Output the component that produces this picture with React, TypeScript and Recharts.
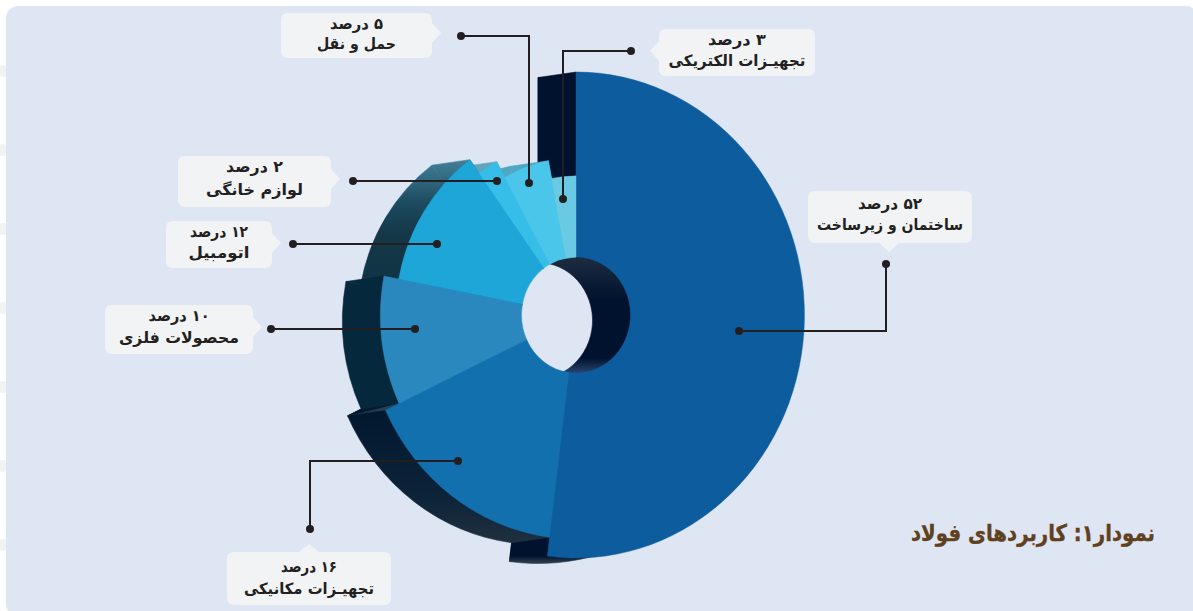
import React from "react";
import { PieChart, Pie, Sector } from "recharts";

// Steel end-use shares, in clockwise order from twelve o'clock.
const sectors = [
  "ساختمان و زیرساخت",
  "تجهیـزات مکانیکی",
  "محصولات فلزی",
  "اتومبیل",
  "لوازم خانگی",
  "حمل و نقل",
  "تجهیـزات الکتریکی",
];
const shares = [52, 16, 10, 12, 2, 5, 3];
const shareLabels = ["۵۲", "۱۶", "۱۰", "۱۲", "۲", "۵", "۳"];
const chartTitle = "نمودار۱: کاربردهای فولاد";

const rows = sectors.map((name, i) => ({ name, value: shares[i], slot: i }));
const reversedRows = [...rows].reverse();

// Look of each slice, indexed by slot.
const faceColors = ["#0C5C9E", "#1270AE", "#2A88BF", "#1EA6D9", "#36BEE9", "#4AC6EA", "#6ACAE3"];
const sliceRadii = [243, 224, 208, 192, 175, 157, 139];
const wallFills = ["url(#wall0)", "url(#wall1)", "#06283C", "url(#wall3)", "#5FA6BC", "#4FA6C0", "#4FA6C0"];

const CX = 576;
const CY = 315;
const HOLE = 58;
const SQUASH = 0.94;
const SHIFT_X = -38 / SQUASH;
const SHIFT_Y = 5.5;
const RAD = Math.PI / 180;
const squash = `translate(${CX} ${CY}) scale(${SQUASH} 1) translate(${-CX} ${-CY})`;

type Callout = {
  box: [number, number, number, number];
  tip: [number, number];
  side: "left" | "right" | "up" | "down";
  lines: [number, number];
  widths: [number, number];
  leader: [number, number][];
};

// Annotation layout per slot: box x0,y0,x1,y1, pointer tip, centre y and width of the two
// text lines, and the leader polyline running from the slice to the box.
const callouts: Callout[] = [
  { box: [808, 191, 972, 243], tip: [889, 252], side: "down", lines: [204, 225], widths: [64, 146], leader: [[739, 331], [886, 331], [886, 264]] },
  { box: [227, 552, 391, 605], tip: [309, 544], side: "up", lines: [567, 589], widths: [56, 130], leader: [[458, 461], [310, 461], [310, 529]] },
  { box: [105, 305, 253, 354], tip: [262, 327], side: "right", lines: [316, 338], widths: [61, 120], leader: [[415, 329], [271, 329]] },
  { box: [166, 221, 272, 268], tip: [281, 243], side: "right", lines: [232, 253], widths: [58, 61], leader: [[437, 244], [293, 244]] },
  { box: [178, 156, 331, 207], tip: [340, 179], side: "right", lines: [167, 190], widths: [57, 97], leader: [[497, 181], [353, 181]] },
  { box: [281, 13, 432, 58], tip: [441, 33], side: "right", lines: [24, 44], widths: [53, 79], leader: [[529, 183], [529, 36], [461, 36]] },
  { box: [659, 29, 815, 76], tip: [650, 51], side: "left", lines: [40, 61], widths: [58, 137], leader: [[563, 199], [563, 51], [631, 51]] },
];

// Faint dots peeking out from behind the panel's left edge.
const edgeDots = [71, 150, 229, 308, 387, 466, 545];

const FONT = "'DejaVu Sans', sans-serif";

function polar(cx: number, cy: number, r: number, deg: number): [number, number] {
  return [cx + r * Math.cos(deg * RAD), cy - r * Math.sin(deg * RAD)];
}

// Extruded side of a slice: the slice slid back along the extrusion vector,
// plus the two parallelograms that join its straight edges to the face.
function Wall(props: any) {
  const { cx, cy, startAngle, endAngle, innerRadius, payload } = props;
  const slot = payload.slot;
  const r = sliceRadii[slot];
  const quad = (a: number) => {
    const o = polar(cx, cy, r, a);
    const i = polar(cx, cy, innerRadius, a);
    return `${o[0]},${o[1]} ${o[0] + SHIFT_X},${o[1] + SHIFT_Y} ${i[0] + SHIFT_X},${i[1] + SHIFT_Y} ${i[0]},${i[1]}`;
  };
  const fill = wallFills[slot];
  // The step between this slice and the larger one below it catches some light.
  let cap = null;
  if (slot === 2) {
    const a = Math.max(startAngle, endAngle);
    const big = polar(cx, cy, sliceRadii[1], a);
    const own = polar(cx, cy, r, a);
    cap = <polygon points={`${big[0]},${big[1]} ${big[0] + SHIFT_X},${big[1] + SHIFT_Y} ${own[0]},${own[1]}`} fill="url(#step)" />;
  }
  return (
    <g transform={squash}>
      <Sector
        cx={cx + SHIFT_X}
        cy={cy + SHIFT_Y}
        innerRadius={innerRadius}
        outerRadius={r}
        startAngle={startAngle}
        endAngle={endAngle}
        fill={fill}
        stroke={fill}
        strokeWidth={0.6}
      />
      <polygon points={quad(startAngle)} fill={fill} stroke={fill} strokeWidth={0.6} />
      <polygon points={quad(endAngle)} fill={fill} stroke={fill} strokeWidth={0.6} />
      {cap}
    </g>
  );
}

const backWall = (props: any) => (props.payload.slot <= 1 ? <Wall {...props} /> : <g />);
const frontWall = (props: any) => (props.payload.slot > 1 ? <Wall {...props} /> : <g />);

function Face(props: any) {
  const { cx, cy, startAngle, endAngle, innerRadius, payload } = props;
  const slot = payload.slot;
  return (
    <g transform={squash}>
      <Sector
        cx={cx}
        cy={cy}
        innerRadius={innerRadius}
        outerRadius={sliceRadii[slot]}
        startAngle={startAngle}
        endAngle={endAngle}
        fill={faceColors[slot]}
        stroke={faceColors[slot]}
        strokeWidth={0.5}
      />
    </g>
  );
}

function boxPath(c: Callout) {
  const [x0, y0, x1, y1] = c.box;
  const [tx, ty] = c.tip;
  const r = 7;
  const w = 10;
  const top = c.side === "up" ? `L${tx - w} ${y0} L${tx} ${ty} L${tx + w} ${y0} ` : "";
  const right = c.side === "right" ? `L${x1} ${ty - w} L${tx} ${ty} L${x1} ${ty + w} ` : "";
  const bottom = c.side === "down" ? `L${tx + w} ${y1} L${tx} ${ty} L${tx - w} ${y1} ` : "";
  const left = c.side === "left" ? `L${x0} ${ty + w} L${tx} ${ty} L${x0} ${ty - w} ` : "";
  return (
    `M${x0 + r} ${y0} ${top}L${x1 - r} ${y0} Q${x1} ${y0} ${x1} ${y0 + r} ${right}` +
    `L${x1} ${y1 - r} Q${x1} ${y1} ${x1 - r} ${y1} ${bottom}` +
    `L${x0 + r} ${y1} Q${x0} ${y1} ${x0} ${y1 - r} ${left}L${x0} ${y0 + r} Q${x0} ${y0} ${x0 + r} ${y0}Z`
  );
}

function Line({ x, y, width, children }: { x: number; y: number; width: number; children: React.ReactNode }) {
  return (
    <text
      x={x}
      y={y}
      textAnchor="middle"
      dominantBaseline="central"
      direction="rtl"
      textLength={width}
      lengthAdjust="spacingAndGlyphs"
      fontFamily={FONT}
      fontWeight={700}
      fontSize={15.5}
      fill="#231F20"
    >
      {children}
    </text>
  );
}

function CalloutLabel(props: any) {
  const slot = props.payload?.slot ?? props.index;
  const c = callouts[slot];
  const mid = (c.box[0] + c.box[2]) / 2;
  const pts = c.leader.map((p) => p.join(",")).join(" ");
  const first = c.leader[0];
  const last = c.leader[c.leader.length - 1];
  return (
    <g>
      <path d={boxPath(c)} fill="#F1F3F4" />
      <Line x={mid} y={c.lines[0]} width={c.widths[0]}>{`${shareLabels[slot]} درصد`}</Line>
      <Line x={mid} y={c.lines[1]} width={c.widths[1]}>{props.name}</Line>
      <polyline points={pts} fill="none" stroke="#231F20" strokeWidth={2} />
      <circle cx={first[0]} cy={first[1]} r={4} fill="#231F20" />
      <circle cx={last[0]} cy={last[1]} r={4} fill="#231F20" />
    </g>
  );
}

const pieBase = {
  dataKey: "value",
  nameKey: "name",
  cx: CX,
  cy: CY,
  innerRadius: HOLE,
  outerRadius: 243,
  paddingAngle: 0,
  stroke: "none",
  isAnimationActive: false,
  rootTabIndex: -1,
};

export default function App() {
  return (
    <div style={{ position: "absolute", left: 0, top: 0, width: 1193, height: 611, background: "#fff", overflow: "hidden" }}>
      {edgeDots.map((y) => (
        <div
          key={y}
          style={{
            position: "absolute",
            left: -3,
            top: y - 6,
            width: 12,
            height: 12,
            borderRadius: 6,
            background: "#EFF3F4",
          }}
        />
      ))}
      <div
        style={{
          position: "absolute",
          left: 6,
          top: 6,
          width: 1192,
          height: 610,
          background: "#DFE6F3",
          borderRadius: 12,
        }}
      />
      <PieChart
        width={1193}
        height={611}
        margin={{ top: 0, right: 0, bottom: 0, left: 0 }}
        style={{ position: "absolute", left: 0, top: 0 }}
      >
        <defs>
          <linearGradient id="wall0" gradientUnits="userSpaceOnUse" x1="0" y1="0" x2="0" y2="611">
            <stop offset={250 / 611} stopColor="#00122E" />
            <stop offset={258 / 611} stopColor="#1C2B3F" />
            <stop offset={300 / 611} stopColor="#00122E" />
            <stop offset={358 / 611} stopColor="#00122E" />
            <stop offset={373 / 611} stopColor="#2A4470" />
            <stop offset={380 / 611} stopColor="#00122E" />
            <stop offset={556 / 611} stopColor="#00122E" />
            <stop offset={562 / 611} stopColor="#2A3A4C" />
          </linearGradient>
          <linearGradient id="wall1" gradientUnits="userSpaceOnUse" x1="0" y1="410" x2="0" y2="545">
            <stop offset="0" stopColor="#02182E" />
            <stop offset="0.6" stopColor="#0B2238" />
            <stop offset="1" stopColor="#20303F" />
          </linearGradient>
          <linearGradient id="wall3" gradientUnits="userSpaceOnUse" x1="0" y1="158" x2="0" y2="285">
            <stop offset="0" stopColor="#42839C" />
            <stop offset="0.35" stopColor="#1D4B5F" />
            <stop offset="0.6" stopColor="#143848" />
            <stop offset="1" stopColor="#103444" />
          </linearGradient>
          <linearGradient id="step" gradientUnits="userSpaceOnUse" x1="347" y1="0" x2="398" y2="0">
            <stop offset="0" stopColor="#1A3040" />
            <stop offset="1" stopColor="#3A4F5E" />
          </linearGradient>
        </defs>
        <Pie {...pieBase} data={rows} startAngle={90} endAngle={-270} shape={backWall} />
        <Pie {...pieBase} data={reversedRows} startAngle={-270} endAngle={90} shape={frontWall} />
        <Pie
          {...pieBase}
          data={rows}
          startAngle={90}
          endAngle={-270}
          shape={Face}
          label={CalloutLabel}
          labelLine={false}
        />
        <text
          x={1033}
          y={533}
          textAnchor="middle"
          dominantBaseline="central"
          direction="rtl"
          textLength={244}
          lengthAdjust="spacingAndGlyphs"
          fontFamily={FONT}
          fontWeight={700}
          fontSize={23}
          fill="#5F4120"
          stroke="#5F4120"
          strokeWidth={0.4}
        >
          {chartTitle}
        </text>
      </PieChart>
    </div>
  );
}
